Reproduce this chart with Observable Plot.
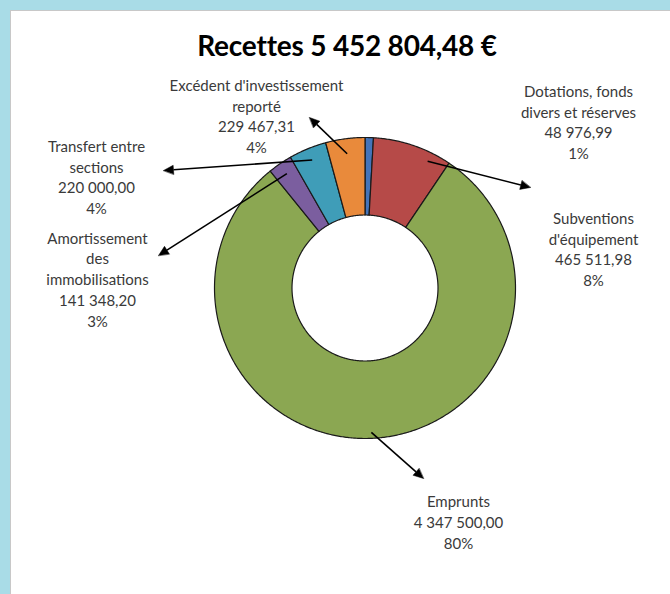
<!DOCTYPE html>
<html><head><meta charset="utf-8">
<script src="https://cdn.jsdelivr.net/npm/d3@7"></script>
<script src="https://cdn.jsdelivr.net/npm/@observablehq/plot@0.6"></script>
<style>
html,body{margin:0;padding:0;width:670px;height:594px;overflow:hidden;background:#a9dce7;}
#panel{position:absolute;left:10px;top:10px;width:659px;height:583px;background:#fff;border-left:1px solid #c8c8c8;border-top:1px solid #c8c8c8;}
#title{height:60px;box-sizing:border-box;padding-top:19px;padding-left:13px;text-align:center;font:bold 28px Lato, sans-serif;color:#000;line-height:30px;letter-spacing:-0.2px;}
#chart svg{display:block;}
</style></head><body>
<div id="panel"><div id="title"></div><div id="chart"></div></div>
<script>
// ---- data ----
const categories = ["Dotations, fonds divers et réserves", "Subventions d'équipement", "Emprunts", "Amortissement des immobilisations", "Transfert entre sections", "Excédent d'investissement reporté"];
const values = [48976.99, 465511.98, 4347500.00, 141348.20, 220000.00, 229467.31];
const percentLabels = ["1%", "8%", "80%", "3%", "4%", "4%"];
const labelNames = ["Dotations, fonds\ndivers et réserves", "Subventions\nd'équipement", "Emprunts", "Amortissement\ndes\nimmobilisations", "Transfert entre\nsections", "Excédent d'investissement\nreporté"];
const colors = ["#4474b9", "#b64a48", "#8ba752", "#7b5e9f", "#3f9db8", "#e98a3b"];

// ---- layout (page pixels) ----
const center = [364.5, 287.5];
const outerR = 150.5, innerR = 73;
const labelPos = [[578, 121], [593, 248], [458, 521], [97, 278], [96, 176], [256, 115]];
const arrowTips = [null, [530, 187], [423, 478], [158, 255], [163, 170], [309, 117]];
const arrowStartR = [0, 0.94, 0.96, 0.92, 0.92, 0.9];
const arrowStartT = [0, 0.75, 0.5, 0.5, 0.5, 0.5];

const locale = d3.formatLocale({decimal: ",", thousands: "\u00a0", grouping: [3], currency: ["", "\u00a0€"]});
const fmt = locale.format(",.2f");
const total = d3.sum(values);
document.getElementById("title").textContent = "Recettes " + fmt(total) + " €";

const arcs = d3.pie().sort(null).startAngle(0).endAngle(2 * Math.PI)(values);
const pt = (a, r) => [center[0] + r * Math.sin(a), center[1] - r * Math.cos(a)];

// slice polygons
const slicePts = [];
arcs.forEach((a, i) => {
  const n = Math.max(2, Math.ceil((a.endAngle - a.startAngle) / (Math.PI / 360)));
  for (let k = 0; k <= n; k++) {
    const t = a.startAngle + (a.endAngle - a.startAngle) * k / n;
    const [x, y] = pt(t, outerR); slicePts.push({cat: categories[i], x, y});
  }
  for (let k = n; k >= 0; k--) {
    const t = a.startAngle + (a.endAngle - a.startAngle) * k / n;
    const [x, y] = pt(t, innerR); slicePts.push({cat: categories[i], x, y});
  }
});

// labels
const labels = categories.map((c, i) => ({
  cat: c, x: labelPos[i][0], y: labelPos[i][1],
  text: labelNames[i] + "\n" + fmt(values[i]) + "\n" + percentLabels[i]
}));

// arrows
const shafts = [], heads = [];
arcs.forEach((a, i) => {
  if (!arrowTips[i]) return;
  const ang = a.startAngle + (a.endAngle - a.startAngle) * arrowStartT[i];
  const S = pt(ang, outerR * arrowStartR[i]);
  const T = arrowTips[i];
  const dx = T[0] - S[0], dy = T[1] - S[1], len = Math.hypot(dx, dy);
  const ux = dx / len, uy = dy / len, nx = -uy, ny = ux;
  const L = 10, w = 4.5;
  const B = [T[0] - L * ux, T[1] - L * uy];
  shafts.push({x1: S[0], y1: S[1], x2: B[0], y2: B[1]});
  heads.push({id: i, x: T[0], y: T[1]}, {id: i, x: B[0] + w * nx, y: B[1] + w * ny}, {id: i, x: B[0] - w * nx, y: B[1] - w * ny});
});

const chart = Plot.plot({
  width: 659, height: 523,
  margin: 0,
  x: {domain: [11, 670], range: [0, 659], axis: null},
  y: {domain: [71, 594], range: [0, 523], axis: null},
  color: {domain: categories, range: colors},
  style: {fontFamily: "Lato, sans-serif", background: "#fff"},
  marks: [
    Plot.line(slicePts, {x: "x", y: "y", z: "cat", fill: "cat", stroke: "#1a1a1a", strokeWidth: 1.2, curve: "linear-closed"}),
    Plot.link(shafts, {x1: "x1", y1: "y1", x2: "x2", y2: "y2", stroke: "#000", strokeWidth: 1.6}),
    Plot.line(heads, {x: "x", y: "y", z: "id", fill: "#000", stroke: "#000", strokeWidth: 0.5, curve: "linear-closed"}),
    Plot.text(labels, {x: "x", y: "y", text: "text", fontSize: 15, lineHeight: 1.38, fill: "#3a3a3a", textAnchor: "middle"})
  ]
});
document.getElementById("chart").appendChild(chart);
</script>
</body></html>
